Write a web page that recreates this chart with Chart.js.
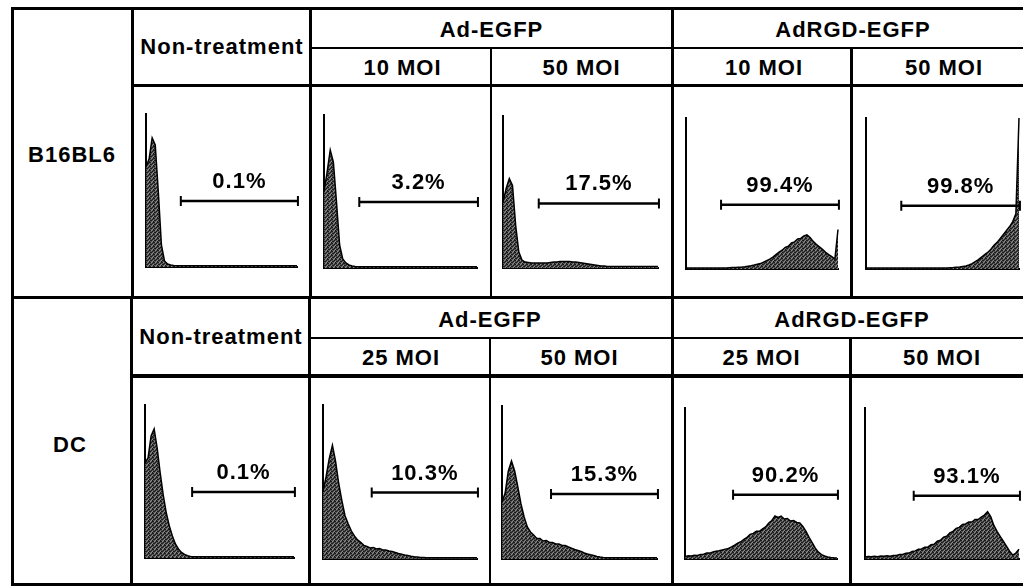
<!DOCTYPE html>
<html>
<head>
<meta charset="utf-8">
<script src="https://cdn.jsdelivr.net/npm/chart.js@4.4.1/dist/chart.umd.min.js"></script>
<style>
body { margin: 0; background: #fff; }
#sheet { position: relative; width: 1023px; height: 587px; overflow: hidden; background: #fff; font-family: "Liberation Sans", Arial, sans-serif; }
.rule { position: absolute; background: #000; }
.txt { position: absolute; width: 240px; text-align: center; font-weight: bold; font-size: 22px; line-height: 22px; letter-spacing: 1px; white-space: nowrap; color: #000; }
canvas { position: absolute; }
</style>
</head>
<body>
<div id="sheet"></div>
<script>
// histogram counts per channel (50 channels)
const b16NonTreat = [
    100, 108, 129, 122, 75, 22, 6, 3, 2, 1.5,
    1.2, 1.2, 1.2, 1.2, 1.2, 1.2, 1.2, 1.2, 1.2, 1.2,
    1.2, 1.2, 1.2, 1.2, 1.2, 1.2, 1.2, 1.2, 1.2, 1.2,
    1.2, 1.2, 1.2, 1.2, 1.2, 1.2, 1.2, 1.2, 1.2, 1.2,
    1.2, 1.2, 1.2, 1.2, 1.2, 1.2, 1.2, 1.2, 1.2, 1.2];
const b16Ad10 = [
    76, 96, 118, 106, 66, 23, 9, 5, 3, 2,
    1.5, 1.3, 1.2, 1.2, 1.2, 1.2, 1.2, 1.2, 1.2, 1.2,
    1.2, 1.2, 1.2, 1.2, 1.2, 1.2, 1.2, 1.2, 1.2, 1.2,
    1.2, 1.2, 1.2, 1.2, 1.2, 1.2, 1.2, 1.2, 1.2, 1.2,
    1.2, 1.2, 1.2, 1.2, 1.2, 1.2, 1.2, 1.2, 1.2, 1.2];
const b16Ad50 = [
    66, 80, 90, 83, 43, 16, 8, 6, 5.5, 5,
    5, 5, 5, 5, 5, 5.5, 6, 6, 6.5, 6.5,
    6.5, 6.5, 6, 6, 5.5, 5, 4.5, 4, 3.5, 3,
    2.5, 2, 2, 1.5, 1.5, 1.5, 1.5, 1.5, 1.5, 1.5,
    1.5, 1.5, 1.5, 1.5, 1.5, 1.5, 1.5, 1.5, 1.5, 1.5];
const b16Rgd10 = [
    1, 1, 1, 1, 1, 1, 1, 1, 1, 1,
    1, 1, 1, 1, 1.2, 1.4, 1.6, 1.8, 2, 2.3,
    2.8, 3.3, 4, 4.8, 5.5, 7, 8.5, 10, 12, 14.5,
    17, 19, 22, 23, 26.5, 27.5, 30.5, 31, 33.5, 34.5,
    32, 28, 25, 22.5, 20, 17, 14.5, 12.5, 10, 40];
const b16Rgd50 = [
    1, 1, 1, 1, 1, 1, 1, 1, 1, 1,
    1, 1, 1, 1, 1, 1, 1, 1, 1, 1,
    1, 1, 1, 1, 1, 1, 1, 1.2, 1.4, 1.7,
    2, 2.5, 3, 4, 5.5, 7.5, 9.5, 12, 14.5, 17,
    20, 24, 27, 31, 35, 39, 43, 48, 56, 153];

const dcNonTreat = [
    95, 100, 122, 129, 110, 85, 63, 45, 32, 22,
    14, 9, 5.5, 3.5, 2.2, 1.6, 1.2, 1.2, 1.2, 1.2,
    1.2, 1.2, 1.2, 1.2, 1.2, 1.2, 1.2, 1.2, 1.2, 1.2,
    1.2, 1.2, 1.2, 1.2, 1.2, 1.2, 1.2, 1.2, 1.2, 1.2,
    1.2, 1.2, 1.2, 1.2, 1.2, 1.2, 1.2, 1.2, 1.2, 1.2];
const dcAd25 = [
    67, 82, 100, 113, 97, 75, 58, 43, 35, 28,
    23, 19, 16.5, 13.5, 12.5, 11, 11.5, 10, 10.5, 9,
    9, 8, 7.5, 6.5, 5.5, 4.8, 4, 3.5, 2.8, 2.3,
    2, 1.6, 1.4, 1.2, 1.2, 1.2, 1.2, 1.2, 1.2, 1.2,
    1.2, 1.2, 1.2, 1.2, 1.2, 1.2, 1.2, 1.2, 1.2, 1.2];
const dcAd50 = [
    57, 66, 88, 98, 88, 72, 55, 42, 32, 27,
    24, 20.5, 20.5, 18, 18.5, 16.5, 16.5, 15, 15, 13.5,
    13.5, 12, 10.7, 9.5, 8.5, 7.5, 6, 5, 4.2, 3.5,
    2.5, 2, 1.6, 1.3, 1.2, 1.2, 1.2, 1.2, 1.2, 1.2,
    1.2, 1.2, 1.2, 1.2, 1.2, 1.2, 1.2, 1.2, 1.2, 1.2];
const dcRgd25 = [
    2.3, 3.2, 3, 3.8, 3.6, 4.6, 4.8, 6, 6, 7.2,
    7.8, 8.4, 9.2, 10, 10.7, 12.3, 14, 16, 17.5, 20,
    22, 25, 26, 28, 28, 30.5, 32.5, 36.5, 39, 43.5,
    42, 43.5, 40.5, 41, 38.5, 39, 37, 36.5, 33, 28,
    22, 16.5, 11, 7, 4.5, 3, 2, 1.5, 1.2, 1];
const dcRgd50 = [
    2, 2.6, 2.2, 2.8, 2.4, 3, 2.7, 3.3, 2.9, 3.5,
    3.6, 4.5, 4.6, 5.8, 6, 7.6, 8.2, 9.8, 10.2, 11.8,
    12, 14.5, 15, 18, 19, 22, 23, 26.5, 28, 31,
    32, 35, 35.5, 37.5, 37.5, 40, 40, 42.5, 44.5, 48,
    43, 34, 28, 23, 18, 13, 8, 4, 6, 10];

const b16Percents = ['0.1%', '3.2%', '17.5%', '99.4%', '99.8%'];
const dcPercents = ['0.1%', '10.3%', '15.3%', '90.2%', '93.1%'];

// marker gate: start channel per row, common end channel, height of the bar
const b16GateStart = 11.3;
const dcGateStart = 15.5;
const gateEnd = 49.3;
const b16GateLevels = [66, 66, 65, 65, 64];
const dcGateLevels = [66, 66, 65, 65, 64];

const yMax = 153;

// plot boxes [left, top, right, bottom] in page pixels
const b16Boxes = [[146, 114, 297, 267], [324, 115, 477, 268], [503, 116, 658, 268], [686, 118, 838, 269], [866, 118, 1019, 269]];
const dcBoxes = [[145, 405, 294, 558], [323, 405, 477, 559], [502, 406, 657, 559], [685, 408, 837, 559], [865, 408, 1019, 559]];

const sheet = document.getElementById('sheet');

function hline(x1, x2, y, w) {
    let d = document.createElement('div');
    d.className = 'rule';
    d.style.cssText = `left:${x1}px;top:${y - w / 2}px;width:${x2 - x1}px;height:${w}px`;
    sheet.appendChild(d);
}

function vline(x, y1, y2, w) {
    let d = document.createElement('div');
    d.className = 'rule';
    d.style.cssText = `left:${x - w / 2}px;top:${y1}px;width:${w}px;height:${y2 - y1}px`;
    sheet.appendChild(d);
}

function label(text, cx, cy) {
    let d = document.createElement('div');
    d.className = 'txt';
    d.textContent = text;
    d.style.left = (cx - 120) + 'px';
    d.style.top = (cy - 11) + 'px';
    sheet.appendChild(d);
}

// table frame
hline(11, 1034, 8, 3);
hline(11, 1034, 584, 3);
vline(12.5, 7, 586, 3);
vline(1031, 7, 586, 3);

// row 1
vline(132.5, 8, 297, 3);
vline(310.5, 8, 297, 3);
vline(672.5, 8, 297, 3);
vline(491, 48, 297, 2.5);
vline(851.5, 48, 297, 2.5);
hline(310, 1034, 47.8, 2.3);
hline(132, 1034, 85.3, 3.5);
hline(11, 1034, 297, 3);

// row 2
vline(131.5, 297, 584, 3);
vline(309.5, 297, 584, 3);
vline(672, 297, 584, 3);
vline(490, 338, 584, 2.5);
vline(850.5, 338, 584, 2.5);
hline(309, 1034, 338, 2.3);
hline(131, 1034, 376, 3.5);

label('B16BL6', 72, 155);
label('Non-treatment', 222, 47);
label('Ad-EGFP', 491.5, 30);
label('AdRGD-EGFP', 853, 30);
label('10 MOI', 402.5, 68);
label('50 MOI', 581.5, 68);
label('10 MOI', 764, 68);
label('50 MOI', 944, 68);

label('DC', 70, 445);
label('Non-treatment', 221, 337);
label('Ad-EGFP', 490, 319.5);
label('AdRGD-EGFP', 852, 319.5);
label('25 MOI', 401, 358);
label('50 MOI', 579.5, 358);
label('25 MOI', 761.5, 358);
label('50 MOI', 942, 358);

const gatePlugin = {
    id: 'gate',
    afterDatasetsDraw(chart, args, opts) {
        let {ctx, scales: {x, y}} = chart;
        let x1 = x.getPixelForValue(opts.from);
        let x2 = x.getPixelForValue(opts.to);
        let yy = y.getPixelForValue(opts.level);
        ctx.save();
        ctx.strokeStyle = '#000';
        ctx.lineWidth = 2.5;
        ctx.beginPath();
        ctx.moveTo(x1, yy);
        ctx.lineTo(x2, yy);
        ctx.stroke();
        ctx.lineWidth = 2;
        ctx.beginPath();
        ctx.moveTo(x1, yy - 5);
        ctx.lineTo(x1, yy + 5);
        ctx.moveTo(x2, yy - 5);
        ctx.lineTo(x2, yy + 5);
        ctx.stroke();
        ctx.font = 'bold 22px "Liberation Sans", Arial, sans-serif';
        ctx.letterSpacing = '1px';
        ctx.textAlign = 'center';
        ctx.textBaseline = 'alphabetic';
        ctx.fillStyle = '#000';
        ctx.fillText(opts.label, (x1 + x2) / 2, yy - 13);
        ctx.restore();
    },
};

// dark stippled fill like the printed histograms
function stipple(ctx) {
    let tile = document.createElement('canvas');
    tile.width = 4;
    tile.height = 4;
    let g = tile.getContext('2d');
    g.fillStyle = '#555';
    g.fillRect(0, 0, 4, 4);
    g.fillStyle = '#1a1a1a';
    [[0, 0], [2, 1], [1, 2], [3, 3], [3, 0], [0, 2]].forEach(([px, py]) => g.fillRect(px, py, 1, 1));
    g.fillStyle = '#8c8c8c';
    [[1, 0], [3, 2], [2, 3]].forEach(([px, py]) => g.fillRect(px, py, 1, 1));
    return ctx.createPattern(tile, 'repeat');
}

const PAD = 12;

function histogram(values, box, pct, gateFrom, gateLevel) {
    let [l, t, r, b] = box;
    let canvas = document.createElement('canvas');
    canvas.width = r - l + PAD * 2;
    canvas.height = b - t + PAD * 2;
    canvas.style.left = (l - PAD) + 'px';
    canvas.style.top = (t - PAD) + 'px';
    sheet.appendChild(canvas);

    let axis = {
        grid: {display: false, drawTicks: false},
        ticks: {display: false},
        border: {display: true, color: '#000', width: 2},
    };

    new Chart(canvas, {
        type: 'line',
        data: {
            datasets: [{
                data: values.map((v, i) => ({x: i, y: v})),
                fill: 'origin',
                backgroundColor: stipple(canvas.getContext('2d')),
                borderColor: '#000',
                borderWidth: 1.5,
                pointRadius: 0,
                tension: 0,
                clip: false,
            }],
        },
        options: {
            responsive: false,
            animation: false,
            events: [],
            layout: {padding: PAD},
            plugins: {
                legend: {display: false},
                tooltip: {enabled: false},
                gate: {from: gateFrom, to: gateEnd, level: gateLevel, label: pct},
            },
            scales: {
                x: Object.assign({type: 'linear', min: 0, max: values.length - 1}, axis),
                y: Object.assign({min: 0, max: yMax}, axis),
            },
        },
        plugins: [gatePlugin],
    });
}

[b16NonTreat, b16Ad10, b16Ad50, b16Rgd10, b16Rgd50].forEach((values, i) => {
    histogram(values, b16Boxes[i], b16Percents[i], b16GateStart, b16GateLevels[i]);
});

[dcNonTreat, dcAd25, dcAd50, dcRgd25, dcRgd50].forEach((values, i) => {
    histogram(values, dcBoxes[i], dcPercents[i], dcGateStart, dcGateLevels[i]);
});
</script>
</body>
</html>
